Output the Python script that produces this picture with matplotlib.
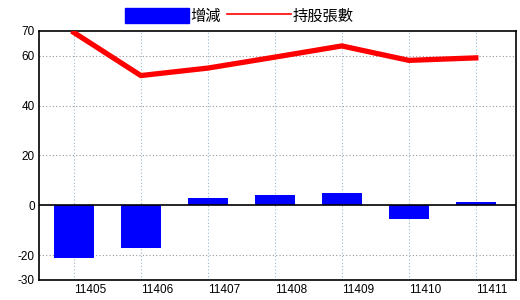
import matplotlib
matplotlib.use('Agg')
import matplotlib.pyplot as plt
from matplotlib.patches import Patch
from matplotlib.lines import Line2D

plt.rcParams['font.family'] = ['Noto Sans CJK TC', 'DejaVu Sans']

months = ['11405', '11406', '11407', '11408', '11409', '11410', '11411']
change = [-21, -17, 3, 4, 5, -5.6, 1.3]
holders = [69.4, 52.1, 55.1, 59.5, 64.0, 58.2, 59.2]
yticks = [70, 60, 40, 20, 0, -20, -30]

fig = plt.figure(figsize=(5.2, 3.0), dpi=100)
ax = fig.add_axes([0.075, 0.0667, 0.9173, 0.83])

x = list(range(len(months)))
ax.bar(x, change, width=0.6, color='#0000ff', zorder=2)
ax.plot(x, holders, color='#ff0000', linewidth=3.8, zorder=3)
ax.axhline(0, color='black', linewidth=1.2, zorder=2)

ax.set_xlim(-0.52, 6.6)
ax.set_ylim(-30, 70)
ax.set_xticks(x)
ax.set_xticklabels(months, fontsize=8.5, family='Liberation Sans', ha='left')
ax.set_yticks(yticks)
ax.set_yticklabels([str(v) for v in yticks], fontsize=8.5, family='Liberation Sans')
ax.tick_params(length=0, pad=3)

for v in [60, 40, 20, -20]:
    ax.axhline(v, color='#999999', linestyle=(0, (1, 2)), linewidth=0.8, zorder=1)
for xi in x:
    ax.axvline(xi, color='#9ab8cc', linestyle=(0, (1, 2)), linewidth=0.8, zorder=1)

for s in ax.spines.values():
    s.set_linewidth(1.2)

handles = [Patch(facecolor='#0000ff', edgecolor='#0000ff'),
           Line2D([], [], color='#ff0000', linewidth=1.2)]
fig.legend(handles, ['增減', '持股張數'], loc='upper center', ncol=2,
           bbox_to_anchor=(0.46, 1.02), frameon=False, fontsize=11,
           handlelength=4.2, handleheight=1.1, handletextpad=0.1,
           columnspacing=0.4)

fig.savefig('out.png', dpi=100)
